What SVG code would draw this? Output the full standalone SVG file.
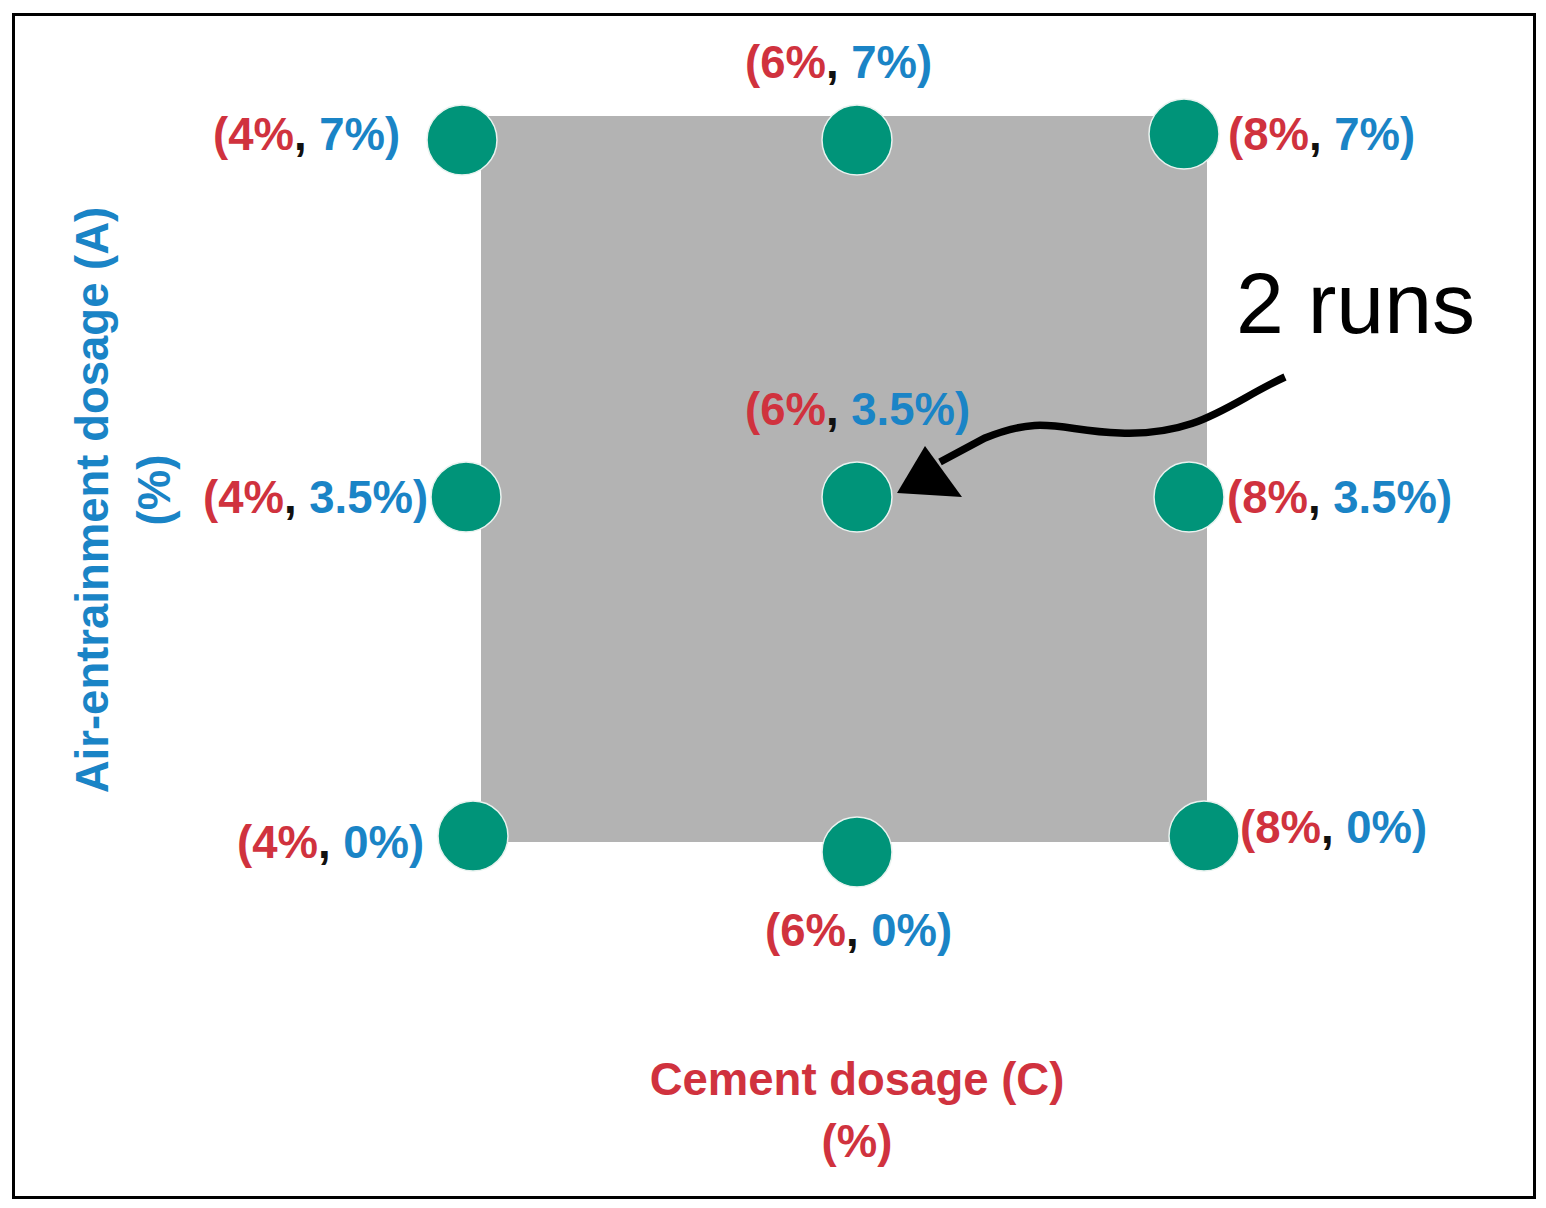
<svg xmlns="http://www.w3.org/2000/svg" width="1546" height="1208" viewBox="0 0 1546 1208">
<style>
.lbl{font-family:"Liberation Sans",Arial,sans-serif;font-weight:bold;font-size:45.5px}
.r{fill:#d0323e}
.b{fill:#1a84c6}
.k{fill:#111}
.pt{fill:#009479;stroke:#e8f2ef;stroke-width:1.5}
</style>
<rect x="13.5" y="14.5" width="1521" height="1183" fill="#fff" stroke="#000" stroke-width="3"/>
<rect id="region" x="481" y="116" width="726" height="726" fill="#b3b3b3"/>

<g id="connectors">
<path d="M1285,377 C1230,402 1200,436 1120,433 C1060,431 1045,414 985,438 L940,462" fill="none" stroke="#000" stroke-width="7.5"/>
<polygon points="897,493 925,446 962,497" fill="#000"/>
</g>

<g id="p-4-7"><circle class="pt" cx="462" cy="140" r="35"/><text class="lbl" x="213" y="150"><tspan class="r">(4%</tspan><tspan class="k">, </tspan><tspan class="b">7%)</tspan></text></g>
<g id="p-6-7"><circle class="pt" cx="857" cy="140" r="35"/><text class="lbl" x="745" y="78"><tspan class="r">(6%</tspan><tspan class="k">, </tspan><tspan class="b">7%)</tspan></text></g>
<g id="p-8-7"><circle class="pt" cx="1184" cy="134" r="35"/><text class="lbl" x="1228" y="150"><tspan class="r">(8%</tspan><tspan class="k">, </tspan><tspan class="b">7%)</tspan></text></g>

<g id="p-4-35"><circle class="pt" cx="466" cy="497" r="35"/><text class="lbl" x="203" y="513"><tspan class="r">(4%</tspan><tspan class="k">, </tspan><tspan class="b">3.5%)</tspan></text></g>
<g id="p-6-35"><circle class="pt" cx="857" cy="497" r="35"/><text class="lbl" x="745" y="425"><tspan class="r">(6%</tspan><tspan class="k">, </tspan><tspan class="b">3.5%)</tspan></text></g>
<g id="p-8-35"><circle class="pt" cx="1189" cy="497" r="35"/><text class="lbl" x="1227" y="513"><tspan class="r">(8%</tspan><tspan class="k">, </tspan><tspan class="b">3.5%)</tspan></text></g>

<g id="p-4-0"><circle class="pt" cx="473" cy="836" r="35"/><text class="lbl" x="237" y="858"><tspan class="r">(4%</tspan><tspan class="k">, </tspan><tspan class="b">0%)</tspan></text></g>
<g id="p-6-0"><circle class="pt" cx="857" cy="852" r="35"/><text class="lbl" x="765" y="946"><tspan class="r">(6%</tspan><tspan class="k">, </tspan><tspan class="b">0%)</tspan></text></g>
<g id="p-8-0"><circle class="pt" cx="1204" cy="836" r="35"/><text class="lbl" x="1240" y="843"><tspan class="r">(8%</tspan><tspan class="k">, </tspan><tspan class="b">0%)</tspan></text></g>

<g id="runs"><text x="1236" y="333" font-family="Liberation Sans,Arial,sans-serif" font-size="86" fill="#000">2 runs</text></g>

<g id="x-axis-label">
<text x="857" y="1095" class="lbl r" text-anchor="middle">Cement dosage (C)</text>
<text x="857" y="1157" class="lbl r" text-anchor="middle">(%)</text>
</g>
<g id="y-axis-label">
<text class="lbl b" text-anchor="middle" transform="translate(108,500) rotate(-90)">Air-entrainment dosage (A)</text>
<text class="lbl b" text-anchor="middle" transform="translate(170,490) rotate(-90)">(%)</text>
</g>
</svg>
